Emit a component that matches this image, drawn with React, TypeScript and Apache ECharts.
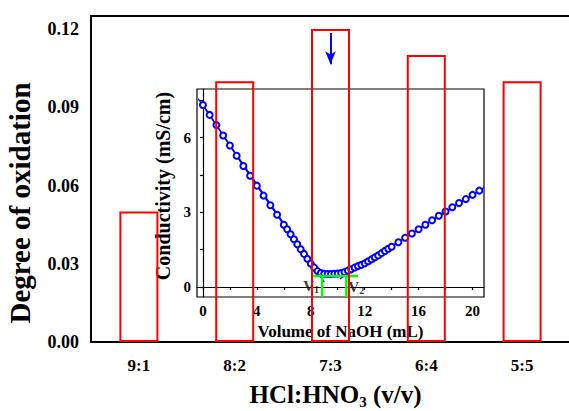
import React, { useEffect, useRef } from "react";
import * as echarts from "echarts";

// ---- main chart data ----
const categories = ["9:1", "8:2", "7:3", "6:4", "5:5"];
const oxidation = [0.05, 0.1, 0.12, 0.11, 0.1];
const yLabelValues = [0, 0.03, 0.06, 0.09, 0.12];
const yMinorValues = [0.015, 0.045, 0.075, 0.105];
const arrowCategoryIndex = 2;
const arrowFrom = 0.1185;
const arrowTo = 0.1065;

// ---- inset data ----
const naohVolume = [
  0, 0.5, 1, 1.5, 2, 2.5, 3, 3.5, 4, 4.5, 5, 5.5, 6,
  6.25, 6.5, 6.75, 7, 7.25, 7.5, 7.75, 8, 8.25, 8.5, 8.75, 9, 9.25, 9.5, 9.75, 10,
  10.25, 10.5, 10.75, 11, 11.25, 11.5, 11.75, 12, 12.25, 12.5, 12.75, 13, 13.25, 13.5, 13.75, 14,
  14.5, 15, 15.5, 16, 16.5, 17, 17.5, 18, 18.5, 19, 19.5, 20, 20.5,
];
const conductivity = [
  7.31, 6.91, 6.5, 6.08, 5.68, 5.27, 4.86, 4.47, 4.07, 3.67, 3.28, 2.9, 2.5,
  2.32, 2.12, 1.92, 1.72, 1.52, 1.33, 1.13, 0.94, 0.78, 0.64, 0.56, 0.53, 0.52, 0.52, 0.53, 0.54,
  0.56, 0.6, 0.66, 0.71, 0.78, 0.84, 0.89, 0.95, 1.03, 1.11, 1.19, 1.27, 1.36, 1.45, 1.54, 1.62,
  1.8, 1.98, 2.15, 2.32, 2.5, 2.68, 2.86, 3.03, 3.2, 3.37, 3.53, 3.7, 3.87,
];
const fitDownX = [-0.35, 9.0];
const fitDownY = [7.55, 0.2];
const fitUpX = [10.15, 20.85];
const fitUpY = [0.32, 4.0];
const equivLevel = 0.44;
const equivSpanX = [8.05, 11.5];
const v1 = 8.84;
const v2 = 10.64;
const insetXMin = -0.44;
const insetXMax = 20.85;
const insetYMin = -0.4;
const insetYMax = 7.95;
const insetXLabels = [0, 4, 8, 12, 16, 20];
const insetXTicks = [0, 2, 4, 6, 8, 10, 12, 14, 16, 18, 20];
const insetYLabels = [0, 3, 6];
const insetYTicks = [0, 1.5, 3, 4.5, 6, 7.5];

const FONT = "'Liberation Serif', 'Times New Roman', serif";
const RED = "#ff0000";
const BLUE = "#0000ff";
const GREEN = "#00ff00";

export default function App() {
  const ref = useRef<HTMLDivElement>(null);

  useEffect(() => {
    document.body.style.margin = "0";
    document.body.style.overflow = "hidden";
    document.documentElement.style.overflow = "hidden";
    if (!ref.current) return;
    const chart = echarts.init(ref.current, null, { renderer: "svg" });

    const curve = naohVolume.map((x, i) => [x, conductivity[i]]);
    const fitDown = fitDownX.map((x, i) => [x, fitDownY[i]]);
    const fitUp = fitUpX.map((x, i) => [x, fitUpY[i]]);

    const subRich = (size: number, subSize: number, pad: number) => ({
      a: { fontSize: size, fontWeight: "bold", fontFamily: FONT, color: "#000" },
      s: { fontSize: subSize, fontWeight: "bold", fontFamily: FONT, color: "#000", padding: [pad, 0, 0, 0] },
    });

    const blackLine = (w: number) => ({ show: true, lineStyle: { color: "#000", width: w } });

    const option: any = {
      animation: false,
      backgroundColor: "#fff",
      grid: [
        { left: 91, top: 16, right: -1, bottom: 69, show: false, outerBoundsMode: "none" },
        { left: 197, top: 89, width: 287, height: 208, show: true, borderColor: "#000", borderWidth: 1.2, backgroundColor: "transparent", outerBoundsMode: "none" },
      ],
      xAxis: [
        {
          gridIndex: 0,
          type: "category",
          data: categories,
          position: "bottom",
          axisLine: blackLine(2),
          axisTick: { alignWithLabel: true, length: 7, lineStyle: { color: "#000", width: 2 } },
          axisLabel: { fontSize: 17, fontWeight: "bold", fontFamily: FONT, color: "#000", margin: 15 },
          splitLine: { show: false },
          name: "{a|HCl:HNO}{s|3}{a| (v/v)}",
          nameLocation: "middle",
          nameGap: 38,
          nameTextStyle: { rich: subRich(25, 15, 14), padding: [0, 0, 0, 10] },
        },
        {
          gridIndex: 0,
          type: "category",
          data: categories,
          position: "bottom",
          axisLine: { show: false },
          axisTick: { length: 3, lineStyle: { color: "#000", width: 2 } },
          axisLabel: { show: false },
          splitLine: { show: false },
        },
        {
          gridIndex: 1,
          type: "value",
          min: insetXMin,
          max: insetXMax,
          position: "bottom",
          axisLine: blackLine(1.2),
          axisTick: { customValues: insetXTicks, length: 3, lineStyle: { color: "#000", width: 1.2 } },
          axisLabel: { customValues: insetXLabels, fontSize: 15, fontWeight: "bold", fontFamily: FONT, color: "#000", margin: 6 },
          splitLine: { show: false },
          name: "Volume of NaOH (mL)",
          nameLocation: "middle",
          nameGap: 22,
          nameTextStyle: { fontSize: 17, fontWeight: "bold", fontFamily: FONT, color: "#000" },
        },
      ],
      yAxis: [
        {
          gridIndex: 0,
          type: "value",
          min: 0,
          max: 0.125,
          position: "left",
          axisLine: blackLine(2),
          axisTick: { customValues: yLabelValues, length: 8, lineStyle: { color: "#000", width: 2 } },
          axisLabel: {
            customValues: yLabelValues,
            formatter: (v: number) => v.toFixed(2),
            fontSize: 18,
            fontWeight: "bold",
            fontFamily: FONT,
            color: "#000",
            margin: 12,
          },
          splitLine: { show: false },
        },
        {
          gridIndex: 0,
          type: "value",
          min: 0,
          max: 0.125,
          position: "left",
          axisLine: { show: false },
          axisTick: { customValues: yMinorValues, length: 4, lineStyle: { color: "#000", width: 2 } },
          axisLabel: { show: false },
          splitLine: { show: false },
        },
        {
          gridIndex: 1,
          type: "value",
          min: insetYMin,
          max: insetYMax,
          position: "left",
          axisLine: blackLine(1.2),
          axisTick: { customValues: insetYTicks, length: 3, lineStyle: { color: "#000", width: 1.2 } },
          axisLabel: { customValues: insetYLabels, fontSize: 15, fontWeight: "bold", fontFamily: FONT, color: "#000", margin: 6 },
          splitLine: { show: false },
          name: "Conductivity (mS/cm)",
          nameLocation: "middle",
          nameGap: 15,
          nameTextStyle: { fontSize: 20, fontWeight: "bold", fontFamily: FONT, color: "#000", padding: [0, 0, 0, 14] },
        },
      ],
      graphic: [
        {
          type: "line",
          silent: true,
          shape: { x1: 90, y1: 16, x2: 569, y2: 16 },
          style: { stroke: "#000", lineWidth: 2 },
        },
        {
          type: "text",
          x: 20,
          y: 203,
          rotation: Math.PI / 2,
          silent: true,
          style: {
            text: "Degree of oxidation",
            font: `bold 29px ${FONT}`,
            fill: "#000",
            align: "center",
            verticalAlign: "middle",
          },
        },
      ],
      series: [
        {
          type: "line",
          xAxisIndex: 2,
          yAxisIndex: 2,
          data: curve,
          symbol: "emptyCircle",
          symbolSize: 6,
          z: 3,
          lineStyle: { color: BLUE, width: 1.5 },
          itemStyle: { color: BLUE, borderColor: BLUE, borderWidth: 1.5 },
          silent: true,
        },
        {
          type: "line",
          xAxisIndex: 2,
          yAxisIndex: 2,
          data: fitDown,
          symbol: "none",
          z: 3,
          lineStyle: { color: BLUE, width: 1.2 },
          silent: true,
        },
        {
          type: "line",
          xAxisIndex: 2,
          yAxisIndex: 2,
          data: fitUp,
          symbol: "none",
          z: 3,
          lineStyle: { color: BLUE, width: 1.2 },
          silent: true,
        },
        {
          type: "line",
          xAxisIndex: 2,
          yAxisIndex: 2,
          data: equivSpanX.map((x) => [x, equivLevel]),
          symbol: "none",
          z: 4,
          lineStyle: { color: GREEN, width: 2.5 },
          silent: true,
        },
        {
          type: "line",
          xAxisIndex: 2,
          yAxisIndex: 2,
          data: [[v1, equivLevel], [v1, insetYMin]],
          symbol: "none",
          z: 4,
          lineStyle: { color: GREEN, width: 2.5 },
          silent: true,
        },
        {
          type: "line",
          xAxisIndex: 2,
          yAxisIndex: 2,
          data: [[v2, equivLevel], [v2, insetYMin]],
          symbol: "none",
          z: 4,
          lineStyle: { color: GREEN, width: 2.5 },
          silent: true,
        },
        {
          type: "scatter",
          xAxisIndex: 2,
          yAxisIndex: 2,
          symbolSize: 0,
          z: 5,
          silent: true,
          data: [
            { value: [v1, 0.05], label: { position: "left", distance: 3, formatter: "{a|V}{s|1}" } },
            { value: [v2, 0.02], label: { position: "right", distance: 2, formatter: "{a|V}{s|2}" } },
          ],
          label: { show: true, rich: subRich(15, 10, 7) },
        },
        {
          type: "bar",
          xAxisIndex: 0,
          yAxisIndex: 0,
          data: oxidation,
          barWidth: 39,
          z: 10,
          silent: true,
          itemStyle: { color: "rgba(0,0,0,0)", borderColor: RED, borderWidth: 2 },
          markLine: {
            silent: true,
            symbol: ["none", "arrow"],
            symbolSize: [8, 13],
            label: { show: false },
            lineStyle: { color: BLUE, width: 2, type: "solid" },
            emphasis: { disabled: true },
            data: [[{ coord: [arrowCategoryIndex, arrowFrom] }, { coord: [arrowCategoryIndex, arrowTo] }]],
          },
        },
      ],
    };

    chart.setOption(option);
    return () => chart.dispose();
  }, []);

  return <div ref={ref} style={{ width: 569, height: 411 }} />;
}
